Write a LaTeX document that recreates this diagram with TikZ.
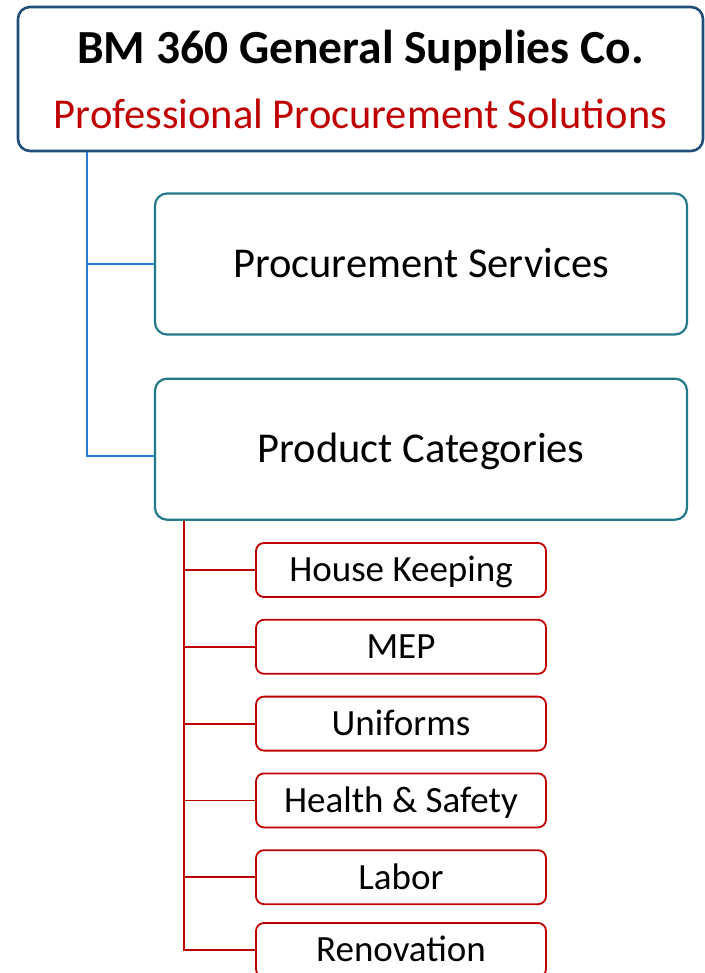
\documentclass[tikz,border=0pt]{standalone}
\usepackage{fontspec}
\setmainfont{Carlito}
\usetikzlibrary{calc, positioning}

\definecolor{navy}{HTML}{1F4E79}
\definecolor{teal}{HTML}{23798A}
\definecolor{linkblue}{HTML}{2E7AD8}
\definecolor{darkred}{HTML}{C00000}

\begin{document}
\begin{tikzpicture}[x=1pt, y=1pt, node distance = 21pt]

\useasboundingbox (0,0) rectangle (704,-973);

\tikzset{
    mainbox/.style={draw=navy, line width=2.6pt, rounded corners=12pt, minimum width=685pt, minimum height=144pt, align=center},
    bigbox/.style={draw=teal, line width=2.2pt, rounded corners=12pt, minimum width=532pt, minimum height=141pt,
        text height=34pt, text depth=6.8pt, font=\fontsize{42.5}{46}\selectfont},
    itembox/.style={draw=darkred, line width=1.8pt, rounded corners=8pt, minimum width=290pt, minimum height=54pt,
        text height=29.6pt, text depth=5.9pt, font=\fontsize{37}{40}\selectfont},
}

\node[mainbox, font=\fontsize{42.5}{65}\selectfont] (head) at (360.5,-79)
    {{\fontsize{47.5}{65}\selectfont\bfseries BM 360 General Supplies Co.}\\
    {\color{darkred}Professional Procurement Solutions}};

\node[bigbox] (svc) at (421,-264) {Procurement Services};
\node[bigbox, below=42pt of svc] (cat) {Product Categories};

\begin{scope}[every node/.style={itembox}]
    \node at (401,-570) (hk) {House Keeping};
    \node[below=of hk] (mep) {MEP};
    \node[below=of mep] (uni) {Uniforms};
    \node[below=of uni] (hs) {Health \& Safety};
    \node[below=of hs] (lab) {Labor};
    \node[below=17pt of lab] (ren) {Renovation};
\end{scope}

% blue links
\coordinate (trunk) at ($(head.south west)+(70,0)$);
\draw[linkblue, line width=2pt] (trunk) |- (svc.west);
\draw[linkblue, line width=2pt] (trunk) |- ($(cat.west)+(0,-7)$);

% red links
\coordinate (branch) at ($(cat.south west)+(30,0)$);
\foreach \leaf in {hk, mep, uni, hs, lab, ren}
    \draw[darkred, line width=1.8pt] (branch) |- (\leaf.west);

\end{tikzpicture}
\end{document}
